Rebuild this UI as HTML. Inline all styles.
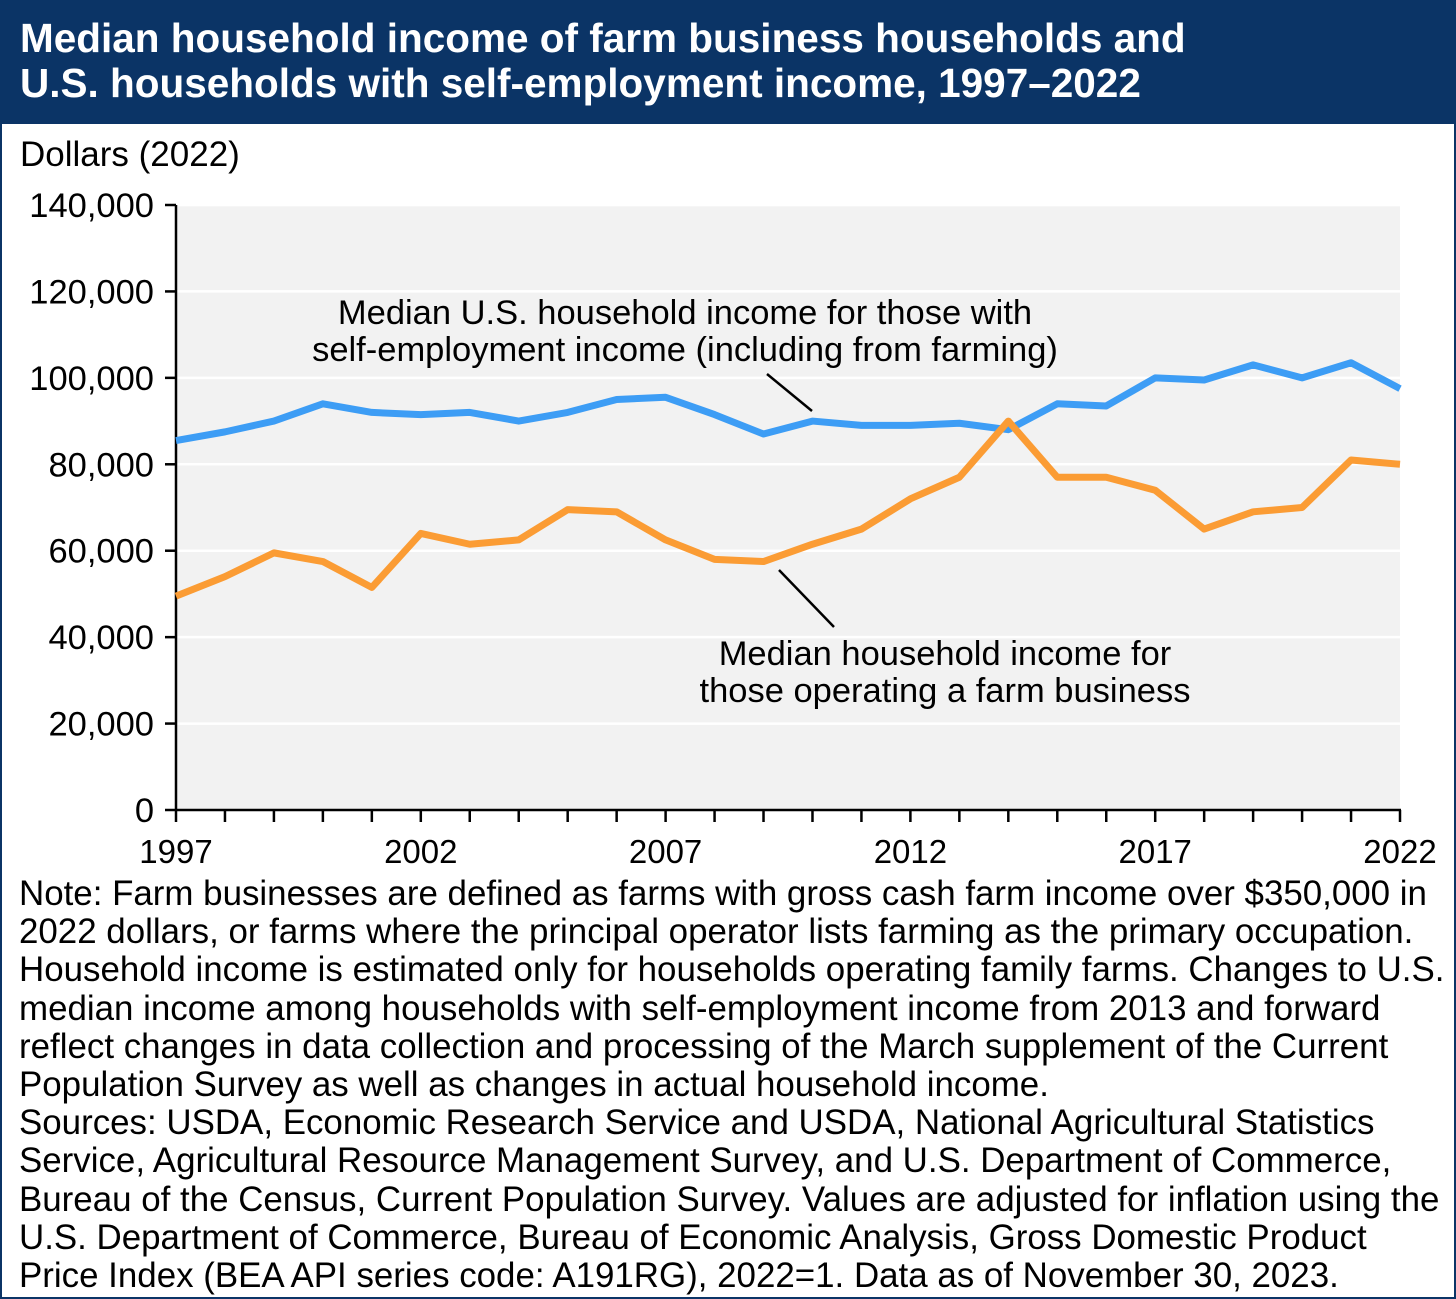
<!DOCTYPE html>
<html><head><meta charset="utf-8"><style>
html,body{margin:0;padding:0;background:#fff}
#wrap{position:relative;width:1456px;height:1299px;box-sizing:border-box;border:2px solid #0b3466;overflow:hidden;font-family:"Liberation Sans",Arial,sans-serif}
#title{position:absolute;left:0;top:0;width:1452px;height:122px;background:#0b3466;color:#fff;font-weight:bold;font-size:40.5px;line-height:45px;padding:14px 0 0 18px;box-sizing:border-box;white-space:nowrap}
#note{position:absolute;left:17px;top:873px;font-size:34.9px;line-height:38.2px;color:#000;white-space:nowrap}
svg{position:absolute;left:0;top:0}
</style></head><body>
<div id="wrap">
<div id="title">Median household income of farm business households and<br>U.S. households with self-employment income, 1997–2022</div>
<svg id="chart" width="1456" height="880"></svg>
<div id="note">Note: Farm businesses are defined as farms with gross cash farm income over $350,000 in<br>2022 dollars, or farms where the principal operator lists farming as the primary occupation.<br>Household income is estimated only for households operating family farms. Changes to U.S.<br>median income among households with self-employment income from 2013 and forward<br>reflect changes in data collection and processing of the March supplement of the Current<br>Population Survey as well as changes in actual household income.<br>Sources: USDA, Economic Research Service and USDA, National Agricultural Statistics<br>Service, Agricultural Resource Management Survey, and U.S. Department of Commerce,<br>Bureau of the Census, Current Population Survey. Values are adjusted for inflation using the<br>U.S. Department of Commerce, Bureau of Economic Analysis, Gross Domestic Product<br>Price Index (BEA API series code: A191RG), 2022=1. Data as of November 30, 2023.</div>
</div>
<script>
const years = [1997,1998,1999,2000,2001,2002,2003,2004,2005,2006,2007,2008,2009,2010,2011,2012,2013,2014,2015,2016,2017,2018,2019,2020,2021,2022];
const selfEmployed = [85500,87500,90000,94000,92000,91500,92000,90000,92000,95000,95500,91500,87000,90000,89000,89000,89500,88000,94000,93500,100000,99500,103000,100000,103500,97500];
const farmBusiness = [49500,54000,59500,57500,51500,64000,61500,62500,69500,69000,62500,58000,57500,61500,65000,72000,77000,90000,77000,77000,74000,65000,69000,70000,81000,80000];
const yTicks = [0,20000,40000,60000,80000,100000,120000,140000];
const xLabels = [1997,2002,2007,2012,2017,2022];

const L=174,R=1398,T=203,B=808;
const x=v=>L+(v-1997)/(2022-1997)*(R-L);
const y=v=>B-v/140000*(B-T);
const svg=document.getElementById('chart');
const NS='http://www.w3.org/2000/svg';
function mk(t,a,p){const e=document.createElementNS(NS,t);for(const k in a)e.setAttribute(k,a[k]);(p||svg).appendChild(e);return e;}
let e=mk('rect',{x:L,y:T,width:R-L,height:B-T,fill:'#f2f2f2'});


yTicks.forEach(v=>{
  if(v>0){e=mk('line',{x1:L,x2:R,y1:y(v),y2:y(v),stroke:'#fff','stroke-width':2.5});
  
  }
  e=mk('line',{x1:L-11,x2:L,y1:y(v),y2:y(v),stroke:'#000','stroke-width':2.5});
  
  
  e=mk('text',{x:152,y:y(v)+12,'text-anchor':'end','font-size':34.5});
  e.textContent=v.toLocaleString('en-US');
  
  
});
years.forEach(v=>{
  e=mk('line',{x1:x(v),x2:x(v),y1:B,y2:B+12,stroke:'#000','stroke-width':2.5});
  
  
});
xLabels.forEach(v=>{
  e=mk('text',{x:x(v),y:861,'text-anchor':'middle','font-size':33});
  e.textContent=v;
  
  
});
e=mk('line',{x1:L,x2:L,y1:T,y2:B+1,stroke:'#000','stroke-width':2.5});


e=mk('line',{x1:L-1,x2:R+1,y1:B,y2:B,stroke:'#000','stroke-width':2.5});


e=mk('text',{x:18,y:164,'font-size':35});
e.textContent='Dollars (2022)';


function series(d,c,n){
  const pts=d.map((v,i)=>x(years[i])+','+y(v)).join(' ');
  const p=mk('polyline',{points:pts,fill:'none',stroke:c,'stroke-width':7,'stroke-linejoin':'round'});
  
  
}
series(selfEmployed,'#3d9df5','self-employment-income-line');
series(farmBusiness,'#fb9c34','farm-business-income-line');
function label(lines,cx,y0,n){
  const t=mk('text',{'text-anchor':'middle','font-size':34.5});
  
  
  lines.forEach((s,i)=>{const ts=mk('tspan',{x:cx,y:y0+i*37},t);ts.textContent=s;});
}
label(['Median U.S. household income for those with','self-employment income (including from farming)'],683,322,'self-employment-label');
label(['Median household income for','those operating a farm business'],943,663,'farm-business-label');
e=mk('line',{x1:765,y1:372,x2:810,y2:409,stroke:'#000','stroke-width':2.5});


e=mk('line',{x1:777,y1:568,x2:832,y2:625,stroke:'#000','stroke-width':2.5});


</script>
</body></html>
